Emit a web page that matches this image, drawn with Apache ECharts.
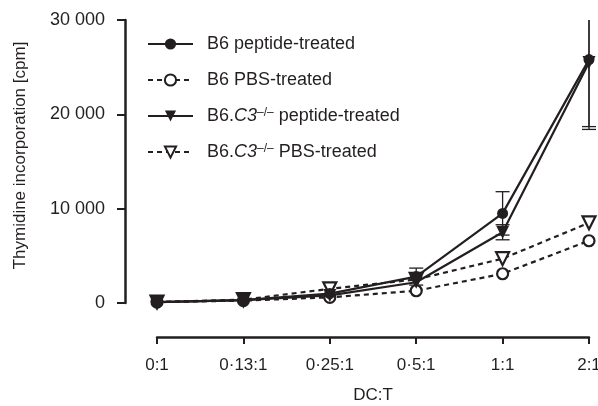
<!DOCTYPE html>
<html><head><meta charset="utf-8">
<script src="https://cdn.jsdelivr.net/npm/echarts@6/dist/echarts.min.js"></script>
<style>html,body{margin:0;padding:0;background:#fff}#c{width:598px;height:406px}</style>
</head><body><div id="c"></div><script>
const categories = ['0:1', '0·13:1', '0·25:1', '0·5:1', '1:1', '2:1'];
const yTickLabels = ['0', '10 000', '20 000', '30 000'];
const seriesNames = ['B6 peptide-treated', 'B6 PBS-treated', 'B6.C3 peptide-treated', 'B6.C3 PBS-treated'];
const b6Peptide = [100, 300, 1000, 2800, 9500, 25800];
const b6PBS = [100, 250, 600, 1300, 3100, 6600];
const c3Peptide = [100, 300, 800, 2200, 7500, 25500];
const c3PBS = [100, 350, 1500, 2500, 4700, 8500];
const b6PeptideErr = [0, 0, 0, 900, 2300, 7100];
const c3PeptideErr = [0, 0, 0, 0, 800, 7100];

const INK = '#231f20';
const YMAX = 30000;
const FONT = 'Liberation Sans, Arial, sans-serif';

function lineSeries(name, data, dashed, symbol, filled, rotate) {
  return {
    name, type: 'line', data,
    symbol, symbolSize: symbol === 'circle' ? 11 : 13, symbolRotate: rotate || 0,
    showAllSymbol: true,
    lineStyle: { color: INK, width: 2.2, type: dashed ? [5, 4] : 'solid' },
    itemStyle: { color: filled ? INK : '#fff', borderColor: INK, borderWidth: filled ? 0 : 2.2 },
    z: dashed ? 2 : 3,
    emphasis: { disabled: true }
  };
}

function errSeries(vals, errs) {
  const data = [];
  vals.forEach((v, i) => { if (errs[i] > 0) data.push([i, v - errs[i], v + errs[i]]); });
  return {
    type: 'custom', silent: true, z: 1, data,
    encode: { x: 0, y: [1, 2] },
    renderItem(params, api) {
      const x = api.value(0), lo = api.value(1), hi = api.value(2);
      const p1 = api.coord([x, lo]);
      const p2 = api.coord([x, Math.min(hi, YMAX)]);
      const w = 7;
      const st = { stroke: INK, lineWidth: 1.3 };
      const ch = [
        { type: 'line', shape: { x1: p1[0], y1: p1[1], x2: p2[0], y2: p2[1] }, style: st },
        { type: 'line', shape: { x1: p1[0] - w, y1: p1[1], x2: p1[0] + w, y2: p1[1] }, style: st }
      ];
      if (hi <= YMAX) ch.push({ type: 'line', shape: { x1: p2[0] - w, y1: p2[1], x2: p2[0] + w, y2: p2[1] }, style: st });
      return { type: 'group', children: ch };
    }
  };
}

const chart = echarts.init(document.getElementById('c'), null, { renderer: 'canvas' });
chart.setOption({
  animation: false,
  textStyle: { fontFamily: FONT, color: INK },
  grid: { left: 157, right: 9, top: 20, bottom: 103, outerBoundsMode: 'none', containLabel: false },
  legend: {
    orient: 'vertical', left: 147, top: 35, padding: 0,
    itemWidth: 45, itemHeight: 14, itemGap: 18,
    data: seriesNames,
    textStyle: {
      fontFamily: FONT, fontSize: 18, color: INK,
      rich: {
        f: { fontSize: 18, fontFamily: FONT, color: INK, padding: [0, 0, 0, 9] },
        n: { fontSize: 18, fontFamily: FONT, color: INK },
        i: { fontSize: 18, fontFamily: FONT, fontStyle: 'italic', color: INK },
        s: { fontSize: 12, fontFamily: FONT, color: INK, verticalAlign: 'top' }
      }
    },
    formatter(name) {
      if (name.startsWith('B6.C3')) {
        return '{f|B6.}{i|C3}{s|–/–}{n|' + name.slice(5) + '}';
      }
      return '{f|' + name + '}';
    }
  },
  xAxis: {
    type: 'category', data: categories, boundaryGap: false,
    offset: 34,
    axisLine: { onZero: false, lineStyle: { color: INK, width: 2.5 } },
    axisTick: { length: 7, lineStyle: { color: INK, width: 2 } },
    axisLabel: { color: INK, fontSize: 17, margin: 20, fontFamily: FONT },
    name: 'DC:T', nameLocation: 'middle', nameGap: 50,
    nameTextStyle: { color: INK, fontSize: 17, fontFamily: FONT },
    splitLine: { show: false }
  },
  yAxis: {
    type: 'value', min: 0, max: YMAX, interval: 10000,
    offset: 32,
    axisLine: { show: true, onZero: false, lineStyle: { color: INK, width: 2.5 } },
    axisTick: { show: true, length: 8, lineStyle: { color: INK, width: 2 } },
    axisLabel: { color: INK, fontSize: 18, margin: 20, fontFamily: FONT,
      formatter: v => yTickLabels[Math.round(v / 10000)] },
    splitLine: { show: false },
    name: 'Thymidine incorporation [cpm]', nameLocation: 'middle', nameGap: 96,
    nameTextStyle: { color: INK, fontSize: 17, fontFamily: FONT, padding: [0, 0, 0, 12] }
  },
  series: [
    errSeries(b6Peptide, b6PeptideErr),
    errSeries(c3Peptide, c3PeptideErr),
    lineSeries(seriesNames[3], c3PBS, true, 'triangle', false, 180),
    lineSeries(seriesNames[1], b6PBS, true, 'circle', false),
    lineSeries(seriesNames[2], c3Peptide, false, 'triangle', true, 180),
    lineSeries(seriesNames[0], b6Peptide, false, 'circle', true)
  ]
});
</script></body></html>
